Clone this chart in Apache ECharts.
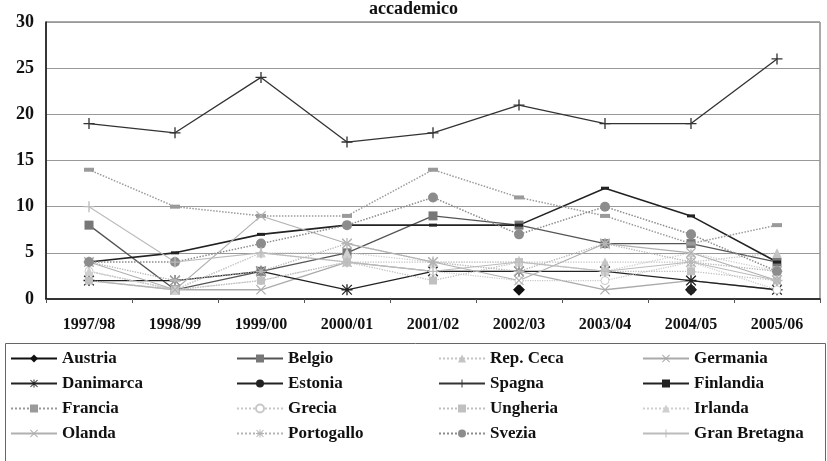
<!DOCTYPE html>
<html>
<head>
<meta charset="utf-8">
<script src="https://cdn.jsdelivr.net/npm/echarts@6/dist/echarts.min.js"></script>
<style>
  html, body { margin: 0; padding: 0; background: #fff; }
  #chart { width: 827px; height: 461px; }
</style>
</head>
<body>
<div id="chart"></div>
<script>
const years = ['1997/98', '1998/99', '1999/00', '2000/01', '2001/02', '2002/03', '2003/04', '2004/05', '2005/06']

const austria = [null, null, null, null, null, 1, null, 1, null]
const belgio = [8, 1, 3, 5, 9, 8, 6, 6, 4]
const repCeca = [3, 1, 5, 4, 4, 4, 4, 4, 5]
const germania = [2, 1, 1, 4, 3, 3, 1, 2, 1]
const danimarca = [2, 2, 3, 1, 3, 3, 3, 2, 1]
const estonia = [null, null, null, null, null, null, null, 1, null]
const spagna = [19, 18, 24, 17, 18, 21, 19, 19, 26]
const finlandia = [4, 5, 7, 8, 8, 8, 12, 9, 4]
const francia = [14, 10, 9, 9, 14, 11, 9, 6, 8]
const grecia = [3, 1, 2, 4, 3, 2, 2, 4, 1]
const ungheria = [2, 1, 2, 4, 2, 4, 3, 3, 2]
const irlanda = [3, 1, 5, 5, 4, 4, 3, 5, 3]
const olanda = [4, 1, 9, 6, 4, 2, 6, 5, 2]
const portogallo = [4, 2, 3, 6, 4, 3, 6, 4, 3]
const svezia = [4, 4, 6, 8, 11, 7, 10, 7, 3]
const granBretagna = [10, 4, 5, 4, 3, 4, 3, 4, 2]

const yTicks = { min: 0, max: 30, interval: 5 }

// marker shapes
const PLUS = 'path://M0,4.4 L10,4.4 L10,5.6 L0,5.6 Z M4.4,0 L5.6,0 L5.6,10 L4.4,10 Z'
const CROSS = 'path://M0.8,0 L5,4.2 L9.2,0 L10,0.8 L5.8,5 L10,9.2 L9.2,10 L5,5.8 L0.8,10 L0,9.2 L4.2,5 L0,0.8 Z'
const STAR = 'path://M4.4,0 L5.6,0 L5.6,10 L4.4,10 Z M0,4.4 L10,4.4 L10,5.6 L0,5.6 Z M1,0.2 L9.8,9 L9,9.8 L0.2,1 Z M9,0.2 L9.8,1 L1,9.8 L0.2,9 Z'
const DASH = 'path://M0,0 L10,0 L10,3 L0,3 Z'

const serif = '"Liberation Serif", "DejaVu Serif", serif'

const mk = (name, data, color, symbol, size, lineType, width, fill) => ({
  name,
  type: 'line',
  data,
  symbol,
  symbolSize: size,
  showSymbol: true,
  connectNulls: false,
  lineStyle: { color, width: width || 1.3, type: lineType || 'solid' },
  itemStyle: { color: fill || color, borderColor: color, borderWidth: fill === '#fff' ? 1 : 0 },
  emphasis: { disabled: true },
  animation: false,
})

const seriesList = [
  mk('Austria', austria, '#111', 'diamond', 12),
  mk('Belgio', belgio, '#555', 'rect', 9, 'solid', 1.3, '#777'),
  mk('Rep. Ceca', repCeca, '#c4c4c4', 'triangle', 9, 'dotted'),
  mk('Germania', germania, '#aaa', CROSS, 10),
  mk('Danimarca', danimarca, '#222', STAR, 11),
  mk('Estonia', estonia, '#222', 'circle', 9),
  mk('Spagna', spagna, '#333', PLUS, 11),
  mk('Finlandia', finlandia, '#222', DASH, [8, 3], 'solid', 1.6),
  mk('Francia', francia, '#9a9a9a', DASH, [10, 4], 'dotted', 1.5),
  mk('Grecia', grecia, '#c8c8c8', 'circle', 8, 'dotted', 1.2, '#fff'),
  mk('Ungheria', ungheria, '#c0c0c0', 'rect', 8, 'dotted'),
  mk('Irlanda', irlanda, '#cfcfcf', 'triangle', 9, 'dotted'),
  mk('Olanda', olanda, '#b0b0b0', CROSS, 10, 'solid', 1.1),
  mk('Portogallo', portogallo, '#b4b4b4', STAR, 11, 'dotted'),
  mk('Svezia', svezia, '#8c8c8c', 'circle', 10, 'dotted', 1.5),
  mk('Gran Bretagna', granBretagna, '#bbb', PLUS, 11, 'solid', 1.1),
]

const legendCols = [
  ['Austria', 'Danimarca', 'Francia', 'Olanda'],
  ['Belgio', 'Estonia', 'Grecia', 'Portogallo'],
  ['Rep. Ceca', 'Spagna', 'Ungheria', 'Svezia'],
  ['Germania', 'Finlandia', 'Irlanda', 'Gran Bretagna'],
]
const legendLeft = [10, 236, 438, 642]

const chart = echarts.init(document.getElementById('chart'))

chart.setOption({
  backgroundColor: '#fff',
  animation: false,
  title: {
    text: 'accademico',
    left: 'center',
    top: 0,
    padding: 0,
    textStyle: { fontFamily: serif, fontSize: 18, fontWeight: 'bold', color: '#111' },
  },
  grid: {
    left: 46, right: 7, top: 22, bottom: 162,
    show: true, borderColor: '#555', borderWidth: 1,
  },
  xAxis: {
    type: 'category',
    data: years,
    boundaryGap: true,
    axisLine: { lineStyle: { color: '#111', width: 1.5 } },
    axisTick: { show: true, lineStyle: { color: '#555' }, length: 4 },
    axisLabel: { fontFamily: serif, fontSize: 16, fontWeight: 'bold', color: '#111', margin: 18 },
  },
  yAxis: {
    type: 'value',
    min: yTicks.min, max: yTicks.max, interval: yTicks.interval,
    axisLine: { show: true, lineStyle: { color: '#111', width: 1.5 } },
    axisTick: { show: false },
    splitLine: { lineStyle: { color: '#999', width: 1 } },
    axisLabel: { fontFamily: serif, fontSize: 18, fontWeight: 'bold', color: '#111', margin: 12 },
  },
  legend: legendCols.map((col, i) => ({
    data: col,
    orient: 'vertical',
    left: legendLeft[i],
    top: 350,
    padding: 0,
    itemGap: 8,
    itemWidth: 46,
    itemHeight: 10,
    selectedMode: false,
    textStyle: { fontFamily: serif, fontSize: 17, fontWeight: 'bold', color: '#111' },
  })),
  graphic: [{
    type: 'rect',
    shape: { x: 5.5, y: 343.5, width: 820, height: 125 },
    style: { fill: 'none', stroke: '#666', lineWidth: 1 },
    silent: true,
  }],
  series: seriesList,
})
</script>
</body>
</html>
